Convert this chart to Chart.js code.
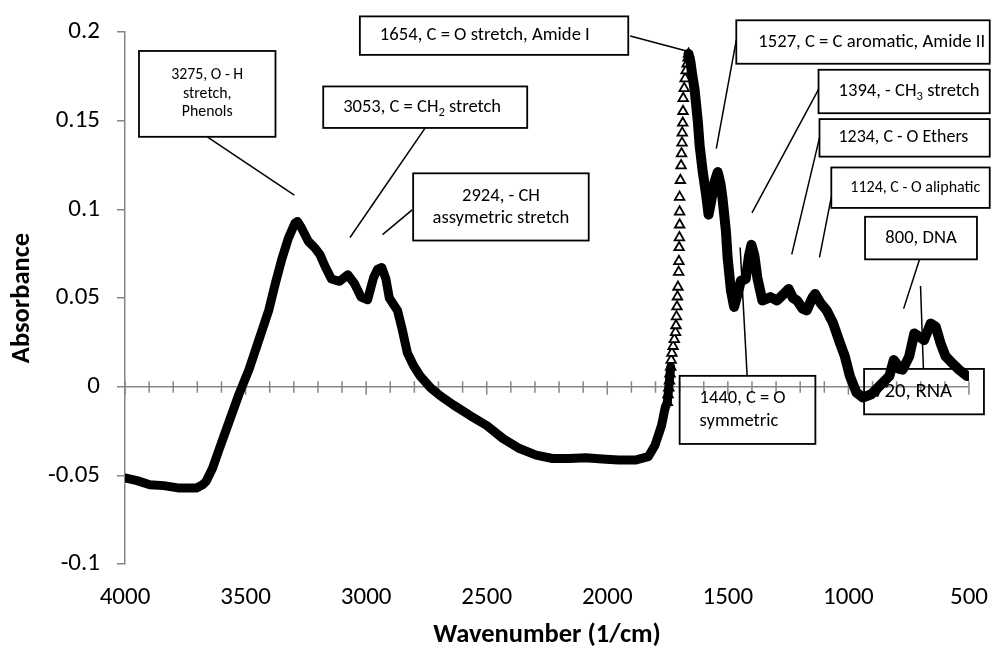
<!DOCTYPE html>
<html>
<head>
<meta charset="utf-8">
<script src="https://cdn.jsdelivr.net/npm/chart.js@4.4.1/dist/chart.umd.min.js"></script>
<style>
html, body { margin: 0; padding: 0; background: #fff; }
</style>
</head>
<body>
<canvas id="graph" width="1007" height="651"></canvas>
<script>
/* FTIR absorbance spectrum, wavenumber axis runs 4000 -> 500 */

var FONT = "Carlito, Lato, sans-serif";

// 4000 down to the foot of the amide I band
var wnLeft = [4000, 3950, 3897, 3840, 3774, 3705, 3680, 3664, 3637, 3610, 3569, 3528, 3486, 3445, 3404, 3377, 3350, 3322, 3295, 3285,
	3268, 3240, 3213, 3192, 3171, 3144, 3110, 3076, 3048, 3021, 2994, 2969, 2952, 2935, 2918, 2904, 2870, 2850, 2829, 2802,
	2776, 2733, 2692, 2637, 2569, 2500, 2432, 2364, 2295, 2227, 2158, 2090, 2021, 1953, 1884, 1830, 1802, 1775, 1760, 1751,
	1745, 1737];
var absLeft = [-0.0515, -0.053, -0.0553, -0.0558, -0.0572, -0.0572, -0.0555, -0.0535, -0.046, -0.0355, -0.020, -0.0045, 0.0096, 0.0263, 0.043, 0.058, 0.0718, 0.0839, 0.0922, 0.0932,
	0.0895, 0.082, 0.0783, 0.0746, 0.068, 0.0607, 0.0594, 0.0631, 0.058, 0.0505, 0.049, 0.0616, 0.0663, 0.0672, 0.0607, 0.050, 0.043, 0.032, 0.019, 0.0115,
	0.006, -0.0006, -0.0052, -0.0104, -0.0163, -0.0219, -0.0293, -0.0349, -0.0386, -0.0405, -0.0405, -0.0401, -0.0408, -0.0414, -0.0414, -0.0395, -0.033, -0.0219, -0.012, -0.0089,
	-0.0006, 0.0111];

// steep rising edge of amide I, where the single markers show
var wnEdge = [1751, 1748, 1745, 1742, 1740, 1737, 1735, 1732, 1727, 1722, 1717, 1715, 1713, 1711, 1709, 1707, 1704, 1703, 1702,
	1701, 1700, 1700, 1700, 1697, 1694, 1692, 1690, 1689, 1687, 1686, 1685, 1681, 1677, 1673, 1669, 1665, 1663];
var absEdge = [-0.0089, -0.0045, -0.0006, 0.0033, 0.0072, 0.0111, 0.0150, 0.0189, 0.0228, 0.0267, 0.0306, 0.0345, 0.0395, 0.0451, 0.0507, 0.0562, 0.0646, 0.0707, 0.0785,
	0.0841, 0.0913, 0.0986, 0.1069, 0.1164, 0.1247, 0.1314, 0.1375, 0.1431, 0.1487, 0.1553, 0.1626, 0.1682, 0.1737, 0.1782, 0.1821, 0.1854, 0.1876];

// amide I peak down to 500
var wnRight = [1663, 1655, 1648, 1638, 1624, 1617, 1604, 1590, 1580, 1570, 1556, 1542, 1530, 1522, 1508, 1501, 1487, 1474, 1460, 1446,
	1426, 1412, 1402, 1390, 1378, 1357, 1340, 1323, 1296, 1270, 1248, 1230, 1213, 1190, 1173, 1150, 1138, 1115, 1090, 1063,
	1035, 1015, 994, 967, 940, 905, 871, 830, 812, 803, 790, 775, 748, 727, 707, 686, 659, 638, 618, 597, 570, 542, 508];
var absRight = [0.1876, 0.183, 0.176, 0.1676, 0.1488, 0.1359, 0.121, 0.108, 0.097, 0.104, 0.115, 0.121, 0.114, 0.106, 0.0876, 0.0728, 0.054, 0.045, 0.052, 0.0597,
	0.0607, 0.074, 0.080, 0.074, 0.0616, 0.0486, 0.0495, 0.0505, 0.0486, 0.052, 0.0551, 0.050, 0.0486, 0.044, 0.043, 0.050, 0.0523, 0.047, 0.043, 0.0356,
	0.0245, 0.0171, 0.006, -0.0033, -0.0061, -0.0043, 0.0004, 0.006, 0.0150, 0.0134, 0.010, 0.0096, 0.0171, 0.030, 0.0282, 0.0263, 0.0356, 0.0338, 0.0245, 0.0171, 0.0134, 0.0096, 0.006];

var xTickValues = [4000, 3500, 3000, 2500, 2000, 1500, 1000, 500];
var xTickLabels = ["4000", "3500", "3000", "2500", "2000", "1500", "1000", "500"];
var yTickValues = [-0.1, -0.05, 0, 0.05, 0.1, 0.15, 0.2];
var yTickLabels = ["-0.1", "-0.05", "0", "0.05", "0.1", "0.15", "0.2"];

// peak labels: box corners and leader line in data units (wavenumber, absorbance)
var notes = [
	{ lines: ["3275, O - H", "stretch,", "Phenols"], box: [3942, 0.1893, 3376, 0.1409], lead: [3659, 0.1409, 3298, 0.108], align: "center", fit: 72, gap: 18.5 },
	{ lines: ["3053, C = CH_2 stretch"], box: [3178, 0.1693, 2332, 0.1459], lead: [2755, 0.1459, 3067, 0.0841], align: "left", pad: 20, fit: 158 },
	{ lines: ["2924, - CH", "assymetric stretch"], box: [2805, 0.1203, 2077, 0.0824], lead: [2809, 0.0997, 2932, 0.0857], align: "center", fit: 137, gap: 22 },
	{ lines: ["1654, C = O stretch, Amide I"], box: [3026, 0.2088, 1913, 0.1871], lead: [1905, 0.1977, 1671, 0.1893], align: "left", pad: 20, fit: 210 },
	{ lines: ["1527, C = C aromatic, Amide II"], box: [1465, 0.2066, 414, 0.1821], lead: [1465, 0.1954, 1548, 0.1342], align: "left", pad: 22, fit: 227 },
	{ lines: ["1394, - CH_3 stretch"], box: [1124, 0.1787, 414, 0.1542], lead: [1124, 0.1676, 1400, 0.098], align: "left", pad: 20, fit: 141 },
	{ lines: ["1234, C - O Ethers"], box: [1120, 0.1509, 414, 0.1297], lead: [1120, 0.1403, 1235, 0.0746], align: "left", pad: 19, fit: 130 },
	{ lines: ["1124, C - O aliphatic"], box: [1071, 0.1236, 414, 0.1008], lead: [1071, 0.1069, 1120, 0.0729], align: "left", pad: 19, fit: 130 },
	{ lines: ["800, DNA"], box: [931, 0.0958, 467, 0.0718], lead: [705, 0.0718, 771, 0.044], align: "center", fit: 71.5 },
	{ lines: ["1440, C = O", "symmetric"], box: [1700, 0.0061, 1137, -0.0323], lead: [1420, 0.0061, 1449, 0.0785], align: "left", pad: 20, fit: 86, gap: 23 },
	{ lines: ["720, RNA"], box: [935, 0.01, 438, -0.0156], lead: [689, 0.01, 701, 0.0568], align: "left", pad: 10, fit: 78 }
];

function toPoints(xs, ys) {
	var out = [];
	for (var i = 0; i < xs.length; i++) out.push({ x: xs[i], y: ys[i] });
	return out;
}

// text with "_n" subscripts
function richWidth(ctx, str, size) {
	var parts = str.split(/_(\d)/);
	var w = 0;
	for (var i = 0; i < parts.length; i++) {
		ctx.font = (i % 2 ? size * 0.68 : size) + "px " + FONT;
		w += ctx.measureText(parts[i]).width;
	}
	return w;
}

function richText(ctx, str, x, y, size) {
	var parts = str.split(/_(\d)/);
	ctx.textAlign = "left";
	ctx.textBaseline = "middle";
	for (var i = 0; i < parts.length; i++) {
		var s = i % 2 ? size * 0.68 : size;
		ctx.font = s + "px " + FONT;
		ctx.fillText(parts[i], x, y + (i % 2 ? size * 0.3 : 0));
		x += ctx.measureText(parts[i]).width;
	}
}

var zeroAxis = {
	id: "zeroAxis",
	beforeDatasetsDraw: function(chart) {
		var ctx = chart.ctx, a = chart.chartArea, xs = chart.scales.x, ys = chart.scales.y;
		var y0 = ys.getPixelForValue(0);
		ctx.save();
		ctx.strokeStyle = "#868686";
		ctx.lineWidth = 1.5;
		ctx.beginPath();
		ctx.moveTo(a.left, y0);
		ctx.lineTo(a.right, y0);
		for (var v = 4000; v >= 500; v -= 100) {
			var px = xs.getPixelForValue(v);
			ctx.moveTo(px, y0 - 5.5);
			ctx.lineTo(px, y0 + (v % 500 === 0 ? 8 : 6));
		}
		ctx.stroke();
		ctx.restore();
	}
};

var peakNotes = {
	id: "peakNotes",
	beforeDatasetsDraw: function(chart) {
		var ctx = chart.ctx, xs = chart.scales.x, ys = chart.scales.y;
		ctx.save();
		notes.forEach(function(n) {
			var x1 = xs.getPixelForValue(n.box[0]), y1 = ys.getPixelForValue(n.box[1]);
			var x2 = xs.getPixelForValue(n.box[2]), y2 = ys.getPixelForValue(n.box[3]);
			ctx.strokeStyle = "#000";
			ctx.lineWidth = 1.8;
			ctx.strokeRect(x1, y1, x2 - x1, y2 - y1);
			ctx.lineWidth = 1.5;
			ctx.beginPath();
			ctx.moveTo(xs.getPixelForValue(n.lead[0]), ys.getPixelForValue(n.lead[1]));
			ctx.lineTo(xs.getPixelForValue(n.lead[2]), ys.getPixelForValue(n.lead[3]));
			ctx.stroke();

			var widest = 0;
			n.lines.forEach(function(t) { widest = Math.max(widest, richWidth(ctx, t, 20)); });
			var size = 20 * n.fit / widest;
			var gap = n.gap || 0;
			var cy = (y1 + y2) / 2;
			ctx.fillStyle = "#000";
			n.lines.forEach(function(t, i) {
				var ty = cy + (i - (n.lines.length - 1) / 2) * gap;
				var tx = n.align === "center" ? (x1 + x2) / 2 - richWidth(ctx, t, size) / 2 : x1 + n.pad;
				richText(ctx, t, tx, ty, size);
			});
		});
		ctx.restore();
	}
};

var ctx = document.getElementById("graph").getContext("2d");

var chart = new Chart(ctx, {
	type: "scatter",
	data: {
		datasets: [{
			data: toPoints(wnLeft, absLeft),
			showLine: true,
			borderColor: "#000",
			borderWidth: 9,
			borderJoinStyle: "round",
			borderCapStyle: "round",
			pointRadius: 0
		}, {
			data: toPoints(wnRight, absRight),
			showLine: true,
			borderColor: "#000",
			borderWidth: 10,
			borderJoinStyle: "round",
			borderCapStyle: "round",
			pointRadius: 0
		}, {
			data: toPoints(wnEdge, absEdge),
			showLine: false,
			pointStyle: "triangle",
			pointRadius: 5.5,
			pointBorderWidth: 1.8,
			pointBorderColor: "#000",
			pointBackgroundColor: "#fff"
		}]
	},
	options: {
		responsive: false,
		animation: false,
		layout: { padding: { top: 25, right: 30, bottom: 0, left: 0 } },
		plugins: { legend: { display: false }, tooltip: { enabled: false } },
		scales: {
			x: {
				type: "linear",
				position: "bottom",
				min: 500,
				max: 4000,
				reverse: true,
				afterBuildTicks: function(s) { s.ticks = xTickValues.map(function(v) { return { value: v }; }); },
				afterFit: function(s) { s.height = 87; },
				grid: { display: false, drawTicks: false },
				border: { display: false },
				ticks: {
					color: "#000",
					font: { family: FONT, size: 25 },
					padding: 19,
					maxRotation: 0,
					autoSkip: false,
					callback: function(v) { return xTickLabels[xTickValues.indexOf(v)]; }
				},
				title: {
					display: true,
					text: "Wavenumber (1/cm)",
					color: "#000",
					font: { family: FONT, size: 26.5, weight: "bold" },
					padding: { top: 0, bottom: 0 }
				}
			},
			y: {
				min: -0.1,
				max: 0.2,
				afterBuildTicks: function(s) { s.ticks = yTickValues.map(function(v) { return { value: v }; }); },
				afterFit: function(s) { s.width = 125; },
				grid: { drawOnChartArea: false, color: "#868686", lineWidth: 1.5, tickLength: 8 },
				border: { color: "#868686", width: 1.5 },
				ticks: {
					color: "#000",
					font: { family: FONT, size: 25 },
					padding: 17,
					callback: function(v, i) { return yTickLabels[i]; }
				},
				title: {
					display: true,
					text: "Absorbance",
					color: "#000",
					font: { family: FONT, size: 26.5, weight: "bold" },
					padding: { top: 6, bottom: 0 }
				}
			}
		}
	},
	plugins: [zeroAxis, peakNotes]
});
</script>
</body>
</html>
